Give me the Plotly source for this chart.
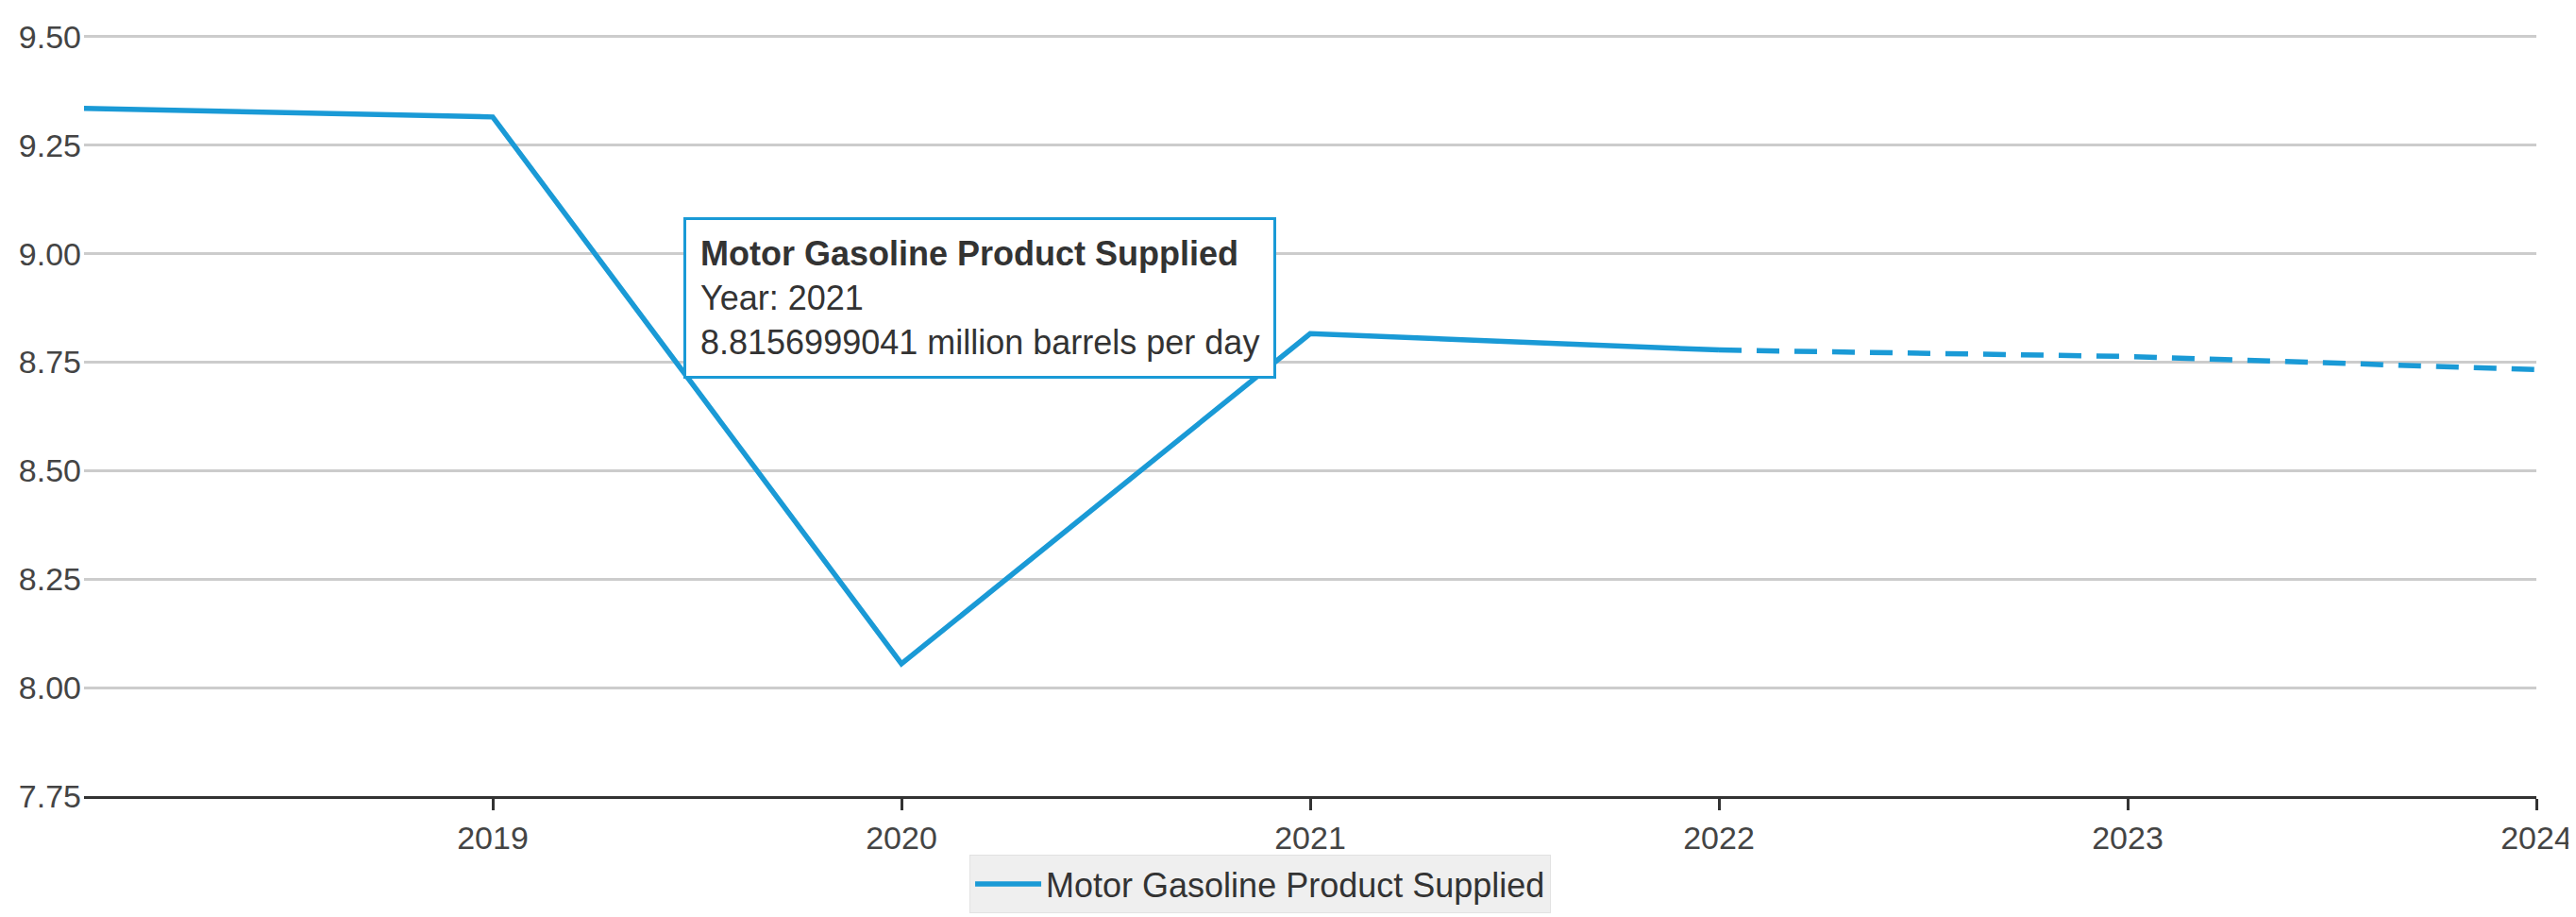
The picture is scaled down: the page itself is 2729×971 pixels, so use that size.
import plotly.graph_objects as go

# ---- data ----
hist_years = [2018, 2019, 2020, 2021, 2022]
hist_values = [9.335, 9.315, 8.055, 8.8156999041, 8.778]
fcst_years = [2022, 2023, 2024]
fcst_values = [8.778, 8.763, 8.733]
x_tick_years = [2019, 2020, 2021, 2022, 2023, 2024]
y_tick_values = [7.75, 8.00, 8.25, 8.50, 8.75, 9.00, 9.25, 9.50]
series_name = "Motor Gasoline Product Supplied"
tooltip_year = 2021
tooltip_value = "8.8156999041"
units = "million barrels per day"

LINE = "#1a9ad6"
FONT = "Liberation Sans, Arial, sans-serif"
W, H = 2729, 971
ML, MR, MT, MB = 72, 37, 12, 128
PW, PH = W - ML - MR, H - MT - MB

fig = go.Figure()
fig.add_trace(go.Scatter(
    x=hist_years, y=hist_values, mode="lines", name=series_name,
    line=dict(color=LINE, width=5.5), hoverinfo="skip"))
fig.add_trace(go.Scatter(
    x=fcst_years, y=fcst_values, mode="lines", showlegend=False,
    line=dict(color=LINE, width=5.5, dash="24px,16px"), hoverinfo="skip"))

def px_x(p):
    return (p - ML) / PW

def px_y(p):
    return (H - MB - p) / PH

fig.add_annotation(
    xref="paper", yref="paper", x=px_x(712), y=px_y(211),
    xanchor="left", yanchor="top", align="left", showarrow=False,
    text=f"<b>{series_name}</b><br>Year: {tooltip_year}<br>{tooltip_value} {units}",
    font=dict(family=FONT, size=36, color="#333333"),
    bgcolor="white", bordercolor=LINE, borderwidth=3, borderpad=15)

fig.update_layout(
    width=W, height=H,
    margin=dict(l=ML, r=MR, t=MT, b=MB),
    paper_bgcolor="white", plot_bgcolor="white",
    font=dict(family=FONT, color="#444444"),
    showlegend=True,
    legend=dict(orientation="h", x=px_x(1018), xanchor="left",
                y=px_y(907), yanchor="top", itemwidth=70,
                bgcolor="#efefef", bordercolor="#e2e2e2", borderwidth=1,
                font=dict(family=FONT, size=36, color="#333333")),
    xaxis=dict(range=[2018, 2024], tickvals=x_tick_years,
               showgrid=False, zeroline=False,
               showline=True, linecolor="#333333", linewidth=3,
               ticks="outside", ticklen=12, tickwidth=3, tickcolor="#333333",
               ticklabeloverflow="allow",
               tickfont=dict(family=FONT, size=34, color="#444444")),
    yaxis=dict(range=[7.75, 9.504], tickvals=y_tick_values, tickformat=".2f",
               showgrid=True, gridcolor="#cccccc", gridwidth=3,
               zeroline=False, showline=False, ticks="",
               ticklabelstandoff=2, ticklabeloverflow="allow",
               tickfont=dict(family=FONT, size=34, color="#444444")),
)

fig.write_html("out.html")
